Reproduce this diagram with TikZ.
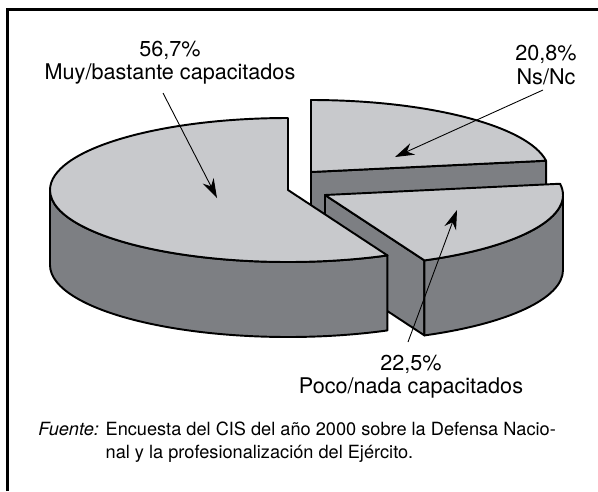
\documentclass[tikz,border=0pt]{standalone}
\usepackage{fontspec}
\setmainfont{TeX Gyre Heros}
\definecolor{topgray}{RGB}{200, 201, 204}
\definecolor{sidegray}{RGB}{125, 127, 131}
\usepackage{tikz}
\usetikzlibrary{arrows.meta, calc}

\begin{document}
\begin{tikzpicture}[x=0.02cm, y=0.02cm,
  topface/.style={draw, fill=topgray, line width=1.1pt, line join=round},
  sideface/.style={draw, fill=sidegray, line width=1.1pt, line join=round},
  slicelabel/.style={font=\fontsize{12.3}{13.2}\selectfont, align=center, inner sep=0pt},
  leader/.style={-{Stealth[length=11pt, width=7pt]}, line width=0.5pt}]
  \useasboundingbox (0,0) rectangle (598,-491);

  % Frame
  \draw[line width=1.7pt] (7.5,-491) -- (7.5,-9.5) -- (598,-9.5);

  % Slice centres
  \coordinate (cbig) at (288,-190);
  \coordinate (cns) at (311,-172);
  \coordinate (cpoco) at (325,-195);

  % Ns/Nc slice (back)
  \draw[sideface] (cns) -- ($(cns)+(9:238 and 72)$) -- ++(0,-75) -- ($(cns)+(0,-75)$) -- cycle;
  \draw[topface] (cns) -- ($(cns)+(9:238 and 72)$) arc[start angle=9, end angle=90, x radius=238, y radius=72] -- cycle;

  % Poco/nada slice
  \draw[sideface] (cpoco) -- ($(cpoco)+(-65.3:238 and 72)$) -- ++(0,-75) -- ($(cpoco)+(0,-75)$) -- cycle;
  \draw[sideface] ($(cpoco)+(-65.3:238 and 72)$) arc[start angle=-65.3, end angle=0, x radius=238, y radius=72] -- ++(0,-75) arc[start angle=0, end angle=-65.3, x radius=238, y radius=72] -- cycle;
  \draw[topface] (cpoco) -- ($(cpoco)+(-65.3:238 and 72)$) arc[start angle=-65.3, end angle=9, x radius=238, y radius=72] -- cycle;

  % Muy/bastante slice (front)
  \draw[sideface] ($(cbig)+(-238,0)$) arc[start angle=180, end angle=294.7, x radius=238, y radius=72] -- ++(0,-75) arc[start angle=294.7, end angle=180, x radius=238, y radius=72] -- cycle;
  \draw[topface] (cbig) -- ($(cbig)+(0,72)$) arc[start angle=90, end angle=294.7, x radius=238, y radius=72] -- cycle;

  % Labels
  \node[slicelabel] (muy) at (170,-63) {56,7\%\\Muy/bastante capacitados};
  \node[slicelabel] (ns) at (546,-65) {20,8\%\\Ns/Nc};
  \node[slicelabel] (poco) at (411,-377) {22,5\%\\Poco/nada capacitados};

  % Arrows
  \coordinate (muytail) at (163,-93);
  \coordinate (muytip) at (217,-198);
  \coordinate (nstail) at (543,-90);
  \coordinate (nstip) at (395,-157);
  \coordinate (pocotail) at (408,-342);
  \coordinate (pocotip) at (457,-210);
  \draw[leader] (muytail) -- (muytip);
  \draw[leader] (nstail) -- (nstip);
  \draw[leader] (pocotail) -- (pocotip);

  % Source
  \node[anchor=base west, inner sep=0pt, font=\fontsize{10.35}{13}\selectfont] (fuente) at (38,-435.5)
    {\begin{tabular}[t]{@{}l@{ }l@{}}\textit{Fuente:} & Encuesta del CIS del año 2000 sobre la Defensa Nacio-\\
     & nal y la profesionalización del Ejército.\end{tabular}};
\end{tikzpicture}
\end{document}
